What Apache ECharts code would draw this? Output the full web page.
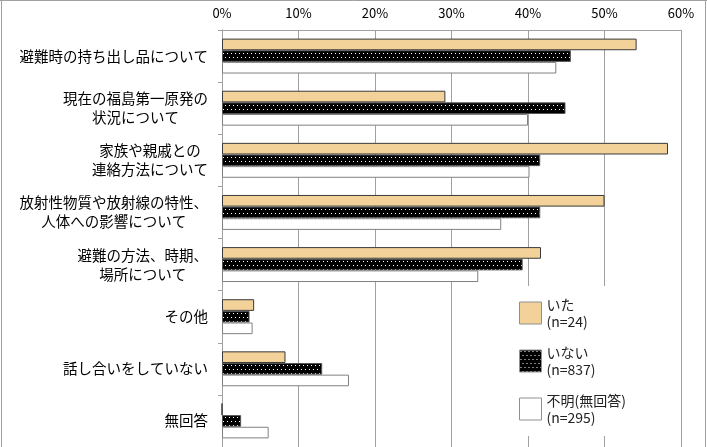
<!DOCTYPE html>
<html>
<head>
<meta charset="utf-8">
<script src="https://cdn.jsdelivr.net/npm/echarts@6/dist/echarts.min.js"></script>
<style>
html,body{margin:0;padding:0;background:#fff;}
#chart{width:707px;height:447px;}
</style>
</head>
<body>
<div id="chart"></div>
<script>
var categories = [
    '避難時の持ち出し品について',
    '現在の福島第一原発の\n状況について',
    '家族や親戚との\n連絡方法について',
    '放射性物質や放射線の特性、\n人体への影響について',
    '避難の方法、時期、\n場所について',
    'その他',
    '話し合いをしていない',
    '無回答'
];
var seriesNames = ['いた\n(n=24)', 'いない\n(n=837)', '不明(無回答)\n(n=295)'];
var itaData = [54.2, 29.2, 58.3, 50.0, 41.7, 4.2, 8.3, 0];
var inaiData = [45.6, 44.9, 41.6, 41.6, 39.3, 3.6, 13.1, 2.5];
var fumeiData = [43.7, 40.0, 40.2, 36.5, 33.5, 4.0, 16.6, 6.1];
var xTicks = [0, 10, 20, 30, 40, 50, 60];

// black with white dots
function dotPattern() {
    var c = document.createElement('canvas');
    c.width = 4;
    c.height = 8;
    var ctx = c.getContext('2d');
    ctx.fillStyle = '#000';
    ctx.fillRect(0, 0, 4, 8);
    ctx.fillStyle = '#fff';
    ctx.fillRect(1, 1, 1, 1);
    ctx.fillRect(3, 5, 1, 1);
    return c;
}

var font = '"Noto Sans CJK JP", "Noto Sans", sans-serif';
var chart = echarts.init(document.getElementById('chart'));
var option = {
    backgroundColor: '#fff',
    animation: false,
    textStyle: { fontFamily: font },
    grid: { left: 222, right: 26, top: 30, bottom: 0, containLabel: false },
    legend: {
        orient: 'vertical',
        left: 511,
        top: 286,
        icon: 'rect',
        itemWidth: 22,
        itemHeight: 22,
        itemGap: 14,
        backgroundColor: '#fff',
        padding: [10, 20, 10, 8],
        data: seriesNames,
        itemStyle: { borderColor: '#909090', borderWidth: 1 },
        textStyle: { fontSize: 14, color: '#222', lineHeight: 17, fontFamily: font }
    },
    xAxis: {
        type: 'value',
        position: 'top',
        min: xTicks[0],
        max: xTicks[xTicks.length - 1],
        interval: 10,
        axisLine: { show: true, lineStyle: { color: '#a0a0a0' } },
        axisTick: { show: false },
        axisLabel: { formatter: '{value}%', fontSize: 13, color: '#000', margin: 10, fontFamily: font },
        splitLine: { show: true, lineStyle: { color: '#a0a0a0', width: 1 } }
    },
    yAxis: {
        type: 'category',
        inverse: true,
        data: categories,
        axisLine: { show: true, lineStyle: { color: '#a0a0a0' } },
        axisTick: { show: true, length: 4, lineStyle: { color: '#a0a0a0' } },
        axisLabel: {
            margin: 14,
            formatter: function (v) {
                // center each line inside the right-aligned block
                return v.split('\n').map(function (s) { return '{c|' + s + '}'; }).join('\n');
            },
            rich: {
                c: { align: 'center', fontSize: 14.5, lineHeight: 19, color: '#000', fontFamily: font }
            }
        }
    },
    series: [
        {
            name: seriesNames[0],
            type: 'bar',
            barGap: '0%',
            barCategoryGap: '33%',
            data: itaData,
            itemStyle: { color: '#f2d298', borderColor: '#3a3a3a', borderWidth: 1 }
        },
        {
            name: seriesNames[1],
            type: 'bar',
            data: inaiData,
            itemStyle: { color: { image: dotPattern(), repeat: 'repeat' }, borderColor: '#555', borderWidth: 1 }
        },
        {
            name: seriesNames[2],
            type: 'bar',
            data: fumeiData,
            itemStyle: { color: '#fff', borderColor: '#808080', borderWidth: 1 }
        }
    ],
    graphic: [
        { type: 'line', shape: { x1: 0, y1: 0.5, x2: 707, y2: 0.5 }, style: { stroke: '#a0a0a0', lineWidth: 1 } },
        { type: 'line', shape: { x1: 1.5, y1: 0, x2: 1.5, y2: 447 }, style: { stroke: '#a0a0a0', lineWidth: 1 } },
        { type: 'line', shape: { x1: 705.5, y1: 0, x2: 705.5, y2: 447 }, style: { stroke: '#a0a0a0', lineWidth: 1 } }
    ]
};
chart.setOption(option);
</script>
</body>
</html>
